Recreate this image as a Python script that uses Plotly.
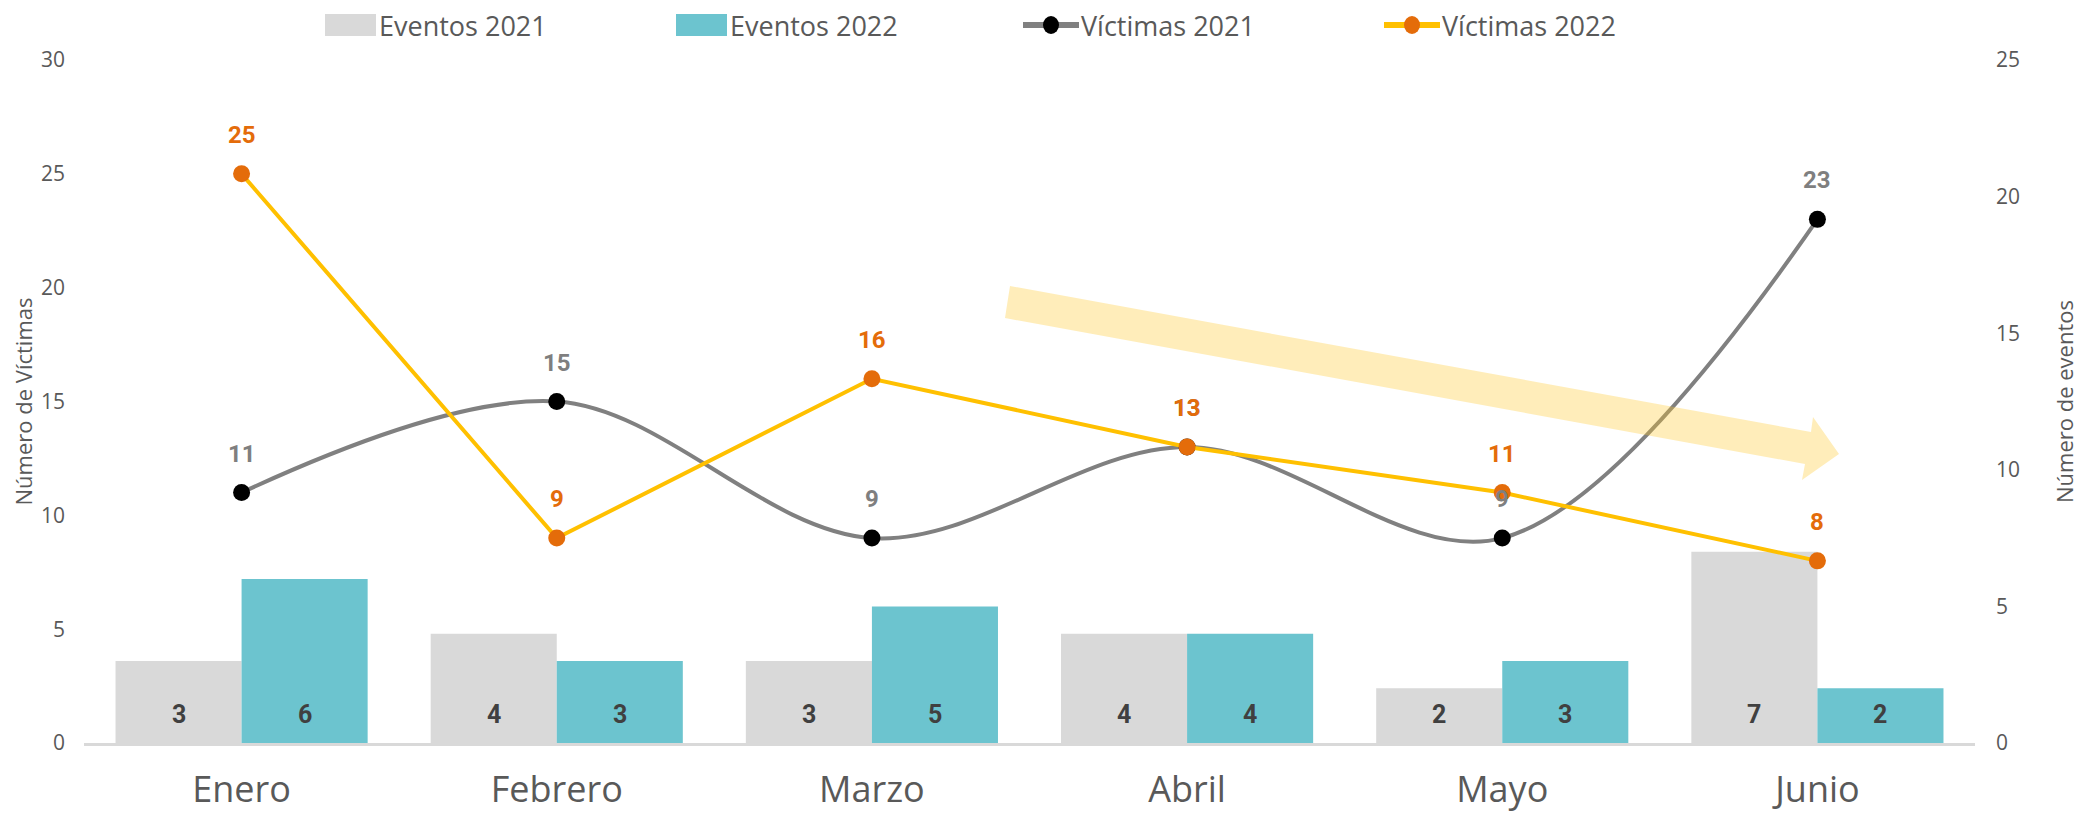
import plotly.graph_objects as go

months = ["Enero", "Febrero", "Marzo", "Abril", "Mayo", "Junio"]
eventos_2021 = [3, 4, 3, 4, 2, 7]
eventos_2022 = [6, 3, 5, 4, 3, 2]
victimas_2021 = [11, 15, 9, 13, 9, 23]
victimas_2022 = [25, 9, 16, 13, 11, 8]

W, H = 2085, 817
OFF = 8  # page body margin
PW, PH = 1891, 683
L, T = 84 - OFF, 60 - OFF
R, B = W - L - PW, H - T - PH

TXT = "#595959"
FONT = "Open Sans"
C_E21, C_E22 = "#D9D9D9", "#6CC4CF"
C_L21, C_M21 = "#808080", "#000000"
C_L22, C_M22 = "#FFC000", "#E46C0A"


def px(xp):
    return (xp - OFF - L) / PW


def py(yp):
    return (T + OFF + PH - yp) / PH


fig = go.Figure()
fig.add_bar(x=months, y=eventos_2021, name="Eventos 2021", marker_color=C_E21,
            marker_line_width=0, yaxis="y")
fig.add_bar(x=months, y=eventos_2022, name="Eventos 2022", marker_color=C_E22,
            marker_line_width=0, yaxis="y")
fig.add_scatter(x=months, y=victimas_2021, name="Víctimas 2021", mode="lines+markers",
                line=dict(color=C_L21, width=4, shape="spline", smoothing=1.0),
                marker=dict(color=C_M21, size=17), yaxis="y2")
fig.add_scatter(x=months, y=victimas_2022, name="Víctimas 2022", mode="lines+markers",
                line=dict(color=C_L22, width=4),
                marker=dict(color=C_M22, size=17), yaxis="y2")

annotations = []
barw = PW / len(months) * 0.4
lab_font = dict(family="Roboto", size=25, color="#404040", weight="bold")
for m, a, b in zip(months, eventos_2021, eventos_2022):
    annotations.append(dict(x=m, y=0, xref="x", yref="y", text=str(a), showarrow=False,
                            xshift=-barw / 2, yshift=29, font=lab_font))
    annotations.append(dict(x=m, y=0, xref="x", yref="y", text=str(b), showarrow=False,
                            xshift=barw / 2, yshift=29, font=lab_font))
for m, v in zip(months, victimas_2021):
    annotations.append(dict(x=m, y=v, xref="x", yref="y2", text=str(v), showarrow=False,
                            yshift=39,
                            font=dict(family="Roboto", size=24, color="#7F7F7F", weight="bold")))
for m, v in zip(months, victimas_2022):
    annotations.append(dict(x=m, y=v, xref="x", yref="y2", text=str(v), showarrow=False,
                            yshift=39,
                            font=dict(family="Roboto", size=24, color=C_M22, weight="bold")))

shapes = []
# decorative trend arrow (page-pixel geometry -> paper coords)
arrow_px = [(1010, 286), (1811, 432), (1813, 417), (1839, 454), (1802, 480), (1805, 464), (1005, 318)]
path = "M " + " L ".join(f"{px(x):.5f},{py(y):.5f}" for x, y in arrow_px) + " Z"
shapes.append(dict(type="path", path=path, xref="paper", yref="paper",
                   fillcolor="rgba(255,200,40,0.32)", line=dict(width=0), layer="above"))

# custom legend
LEG_Y = 25
leg_font = dict(family=FONT, size=27, color=TXT)
for x0, color, name in [(325, C_E21, "Eventos 2021"), (676, C_E22, "Eventos 2022")]:
    shapes.append(dict(type="rect", xref="paper", yref="paper",
                       x0=px(x0), x1=px(x0 + 51), y0=py(LEG_Y - 11), y1=py(LEG_Y + 11),
                       fillcolor=color, line=dict(width=0)))
    annotations.append(dict(x=px(x0 + 53), y=py(LEG_Y), xref="paper", yref="paper",
                            xanchor="left", yanchor="middle", text=name, showarrow=False,
                            font=leg_font, borderpad=0))
for x0, lc, mc, name in [(1023, C_L21, C_M21, "Víctimas 2021"), (1384, C_L22, C_M22, "Víctimas 2022")]:
    shapes.append(dict(type="line", xref="paper", yref="paper",
                       x0=px(x0), x1=px(x0 + 56), y0=py(LEG_Y), y1=py(LEG_Y),
                       line=dict(color=lc, width=6)))
    shapes.append(dict(type="circle", xref="paper", yref="paper",
                       x0=px(x0 + 28 - 8), x1=px(x0 + 28 + 8), y0=py(LEG_Y - 9), y1=py(LEG_Y + 9),
                       fillcolor=mc, line=dict(width=0)))
    annotations.append(dict(x=px(x0 + 57), y=py(LEG_Y), xref="paper", yref="paper",
                            xanchor="left", yanchor="middle", text=name, showarrow=False,
                            font=leg_font, borderpad=0))

fig.update_layout(
    width=W, height=H,
    margin=dict(l=L, r=R, t=T, b=B, autoexpand=False),
    paper_bgcolor="white", plot_bgcolor="white",
    font=dict(family=FONT, color=TXT, size=20),
    barmode="group", bargap=0.2, bargroupgap=0,
    showlegend=False,
    xaxis=dict(showgrid=False, showline=True, linecolor="#D9D9D9", linewidth=3,
               ticks="", tickfont=dict(size=36, color=TXT), ticklabelstandoff=13,
               zeroline=False, automargin=False),
    yaxis=dict(side="right", range=[0, 25], dtick=5, showgrid=False, zeroline=False,
               showline=False, ticks="", tickfont=dict(size=21, color=TXT),
               ticklabelstandoff=20, automargin=False,
               title=dict(text="Número de eventos", font=dict(size=22, color=TXT), standoff=38)),
    yaxis2=dict(overlaying="y", side="left", range=[0, 30], dtick=5, showgrid=False,
                zeroline=False, showline=False, ticks="", tickfont=dict(size=21, color=TXT),
                ticklabelstandoff=18, automargin=False,
                title=dict(text="Número de Víctimas", font=dict(size=22, color=TXT), standoff=30)),
    annotations=annotations,
    shapes=shapes,
)

fig.write_html("out.html")
